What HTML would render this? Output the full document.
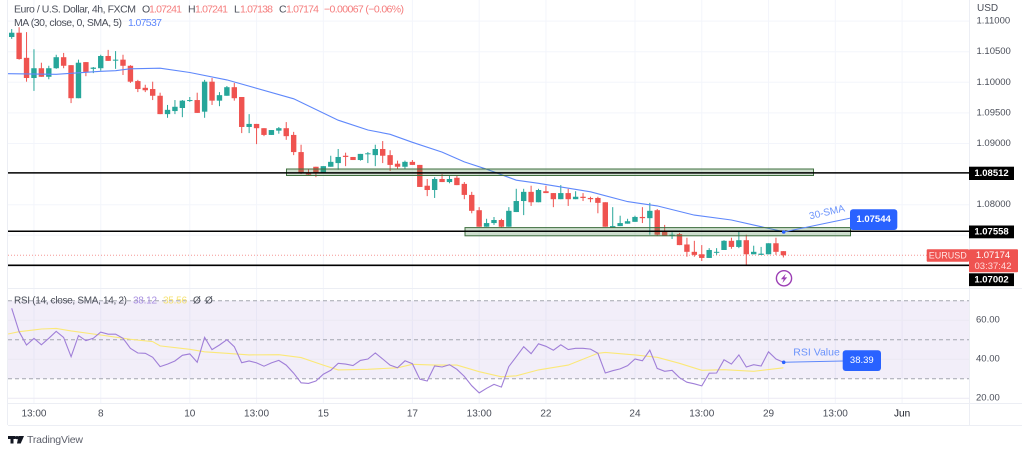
<!DOCTYPE html>
<html lang="en">
<head>
<meta charset="utf-8">
<title>EUR/USD 4h chart</title>
<style>
html,body{margin:0;padding:0;background:#fff;width:1024px;height:454px;overflow:hidden}
svg{display:block;font-family:"Liberation Sans",sans-serif}
text{dominant-baseline:central}
</style>
</head>
<body>
<svg id="chart" xmlns="http://www.w3.org/2000/svg" width="1024" height="454" viewBox="0 0 1024 454">
  <defs>
    <clipPath id="pane-clip"><rect x="8" y="0" width="961" height="288"/></clipPath>
    <clipPath id="rsi-clip"><rect x="8" y="289" width="961" height="114"/></clipPath>
  </defs>
  <g id="grid-layer"></g>
  <rect x="8" y="300.7" width="961" height="78" fill="#7e57c2" fill-opacity="0.1"/>
  <g id="rsi-grid-layer"></g>
  <g id="frame" stroke="#eceef4" stroke-width="1">
    <line x1="7.5" y1="0" x2="7.5" y2="425"/>
    <line x1="969.5" y1="0" x2="969.5" y2="425"/>
    <line x1="8" y1="288.5" x2="1022" y2="288.5"/>
    <line x1="8" y1="403.5" x2="1022" y2="403.5"/>
    <line x1="8" y1="425.5" x2="1022" y2="425.5"/>
  </g>
  <line x1="8" y1="255.3" x2="927" y2="255.3" stroke="#ef5350" stroke-opacity="0.6" stroke-dasharray="1 2"/>
  <g id="candle-layer" clip-path="url(#pane-clip)"></g>
  <polyline id="ma-line" fill="none" stroke="#5f88fb" stroke-width="1.1"/>

  <rect x="286.5" y="169" width="527" height="6.5" fill="#4f8a4f" fill-opacity="0.28" stroke="#3f6f3f" stroke-width="1"/>
  <rect x="465" y="227.6" width="385.5" height="8.2" fill="#4f8a4f" fill-opacity="0.28" stroke="#3f6f3f" stroke-width="1"/>
  <g id="level-layer"></g>

  <g font-size="10.5" fill="#4a4e59">
    <text x="14" y="9.5" textLength="122">Euro / U.S. Dollar, 4h, FXCM</text>
    <text x="142" y="9.5">O</text>
    <text x="149" y="9.5" fill="#f57c7c" textLength="33">1.07241</text>
    <text x="188" y="9.5">H</text>
    <text x="195" y="9.5" fill="#f57c7c" textLength="33">1.07241</text>
    <text x="234" y="9.5">L</text>
    <text x="240" y="9.5" fill="#f57c7c" textLength="33">1.07138</text>
    <text x="279" y="9.5">C</text>
    <text x="286" y="9.5" fill="#f57c7c" textLength="33">1.07174</text>
    <text x="324" y="9.5" fill="#f57c7c" textLength="80">−0.00067 (−0.06%)</text>
    <text x="14" y="23" textLength="108">MA (30, close, 0, SMA, 5)</text>
    <text x="128" y="23" fill="#5f88fb" textLength="34">1.07537</text>
  </g>
  <text x="977" y="8.5" font-size="10" fill="#4a4e59">USD</text>
  <g id="price-axis"></g>
  <g id="rsi-axis"></g>
  <g id="time-axis"></g>

  <rect x="969" y="166.7" width="45" height="13.3" fill="#000"/>
  <text x="991.5" y="173.5" font-size="9.5" font-weight="bold" fill="#fff" text-anchor="middle">1.08512</text>
  <rect x="969" y="225.5" width="45" height="12.8" fill="#000"/>
  <text x="991.5" y="232" font-size="9.5" font-weight="bold" fill="#fff" text-anchor="middle">1.07558</text>
  <rect x="969" y="273.3" width="45" height="12.8" fill="#000"/>
  <text x="991.5" y="279.8" font-size="9.5" font-weight="bold" fill="#fff" text-anchor="middle">1.07002</text>

  <rect x="926.7" y="249.3" width="42.3" height="12.5" rx="1" fill="#ef5350"/>
  <text x="947.8" y="255.7" font-size="9" fill="#ffe3e2" text-anchor="middle">EURUSD</text>
  <rect x="969" y="249.3" width="49" height="23" rx="1" fill="#ef5350"/>
  <text x="993" y="255.5" font-size="9.5" fill="#fff" text-anchor="middle">1.07174</text>
  <text x="993" y="266.3" font-size="9.5" fill="#ffd9d8" text-anchor="middle">03:37:42</text>

  <line x1="783.7" y1="232" x2="851" y2="218" stroke="#5f88fb" stroke-width="1"/>
  <circle cx="783.7" cy="232" r="1.8" fill="#2962ff"/>
  <text x="809.5" y="217" font-size="10" fill="#6b93fb" transform="rotate(-13 809.5 217)">30-SMA</text>
  <rect x="850" y="209.3" width="47.3" height="20.7" rx="3" fill="#2962ff"/>
  <text x="873.6" y="219.7" font-size="9.5" fill="#fff" font-weight="bold" text-anchor="middle">1.07544</text>

  <g>
    <circle cx="784" cy="278.3" r="7.6" fill="#fff" stroke="#9c3fb5" stroke-width="1.4"/>
    <polygon points="785.8,273.6 780.9,279.2 783.7,279.2 782.4,283 787.2,277.4 784.4,277.4" fill="#9c3fb5"/>
  </g>

  <g id="rsi-lines" clip-path="url(#rsi-clip)">
    <polyline id="rsi-sma-line" fill="none" stroke="#fbe878" stroke-width="1.1"/>
    <polyline id="rsi-line" fill="none" stroke="#a07fd8" stroke-width="1.1"/>
  </g>
  <g font-size="10" fill="#4a4e59">
    <text x="14" y="301" textLength="113">RSI (14, close, SMA, 14, 2)</text>
    <text x="133" y="301" fill="#a88fe0" textLength="24">38.12</text>
    <text x="163" y="301" fill="#f5e275" textLength="24">35.56</text>
    <text x="193" y="301">Ø</text>
    <text x="205" y="301">Ø</text>
  </g>
  <line x1="783.7" y1="362.3" x2="843" y2="361" stroke="#5f88fb" stroke-width="1"/>
  <circle cx="783.7" cy="362.3" r="1.8" fill="#2962ff"/>
  <text x="793.3" y="352.3" font-size="10.5" fill="#6b93fb">RSI Value</text>
  <rect x="842.7" y="350.3" width="38.3" height="20.7" rx="3" fill="#2962ff"/>
  <text x="861.8" y="360.7" font-size="9.5" fill="#fff" text-anchor="middle">38.39</text>

  <g>
    <g fill="#131722">
      <rect x="8" y="436" width="7.5" height="3"/>
      <rect x="10.5" y="436" width="3" height="7.5"/>
      <circle cx="17" cy="437.6" r="1.6"/>
      <polygon points="18.5,436 24,436 20.7,443.5 17,443.5"/>
    </g>
    <text x="27" y="440" font-size="10.5" fill="#5d606b" textLength="56">TradingView</text>
  </g>
</svg>
<script>
const opens = [1.1074,1.1081,1.1040,1.1007,1.1023,1.1009,1.1023,1.1041,1.1028,1.0974,
1.1033,1.1022,1.1023,1.1043,1.1036,1.1037,1.1027,1.1002,1.0991,1.0989,
1.0978,1.0948,1.0953,1.0958,1.0970,1.0971,1.0952,1.1001,1.0970,1.0978,
1.0992,1.0976,1.0927,1.0932,1.0925,1.0914,1.0921,1.0925,1.0914,1.0886,
1.0852,1.0862,1.0852,1.0862,1.0868,1.0880,1.0878,1.0873,1.0883,1.0881,
1.0891,1.0881,1.0867,1.0862,1.0870,1.0865,1.0831,1.0824,1.0842,1.0837,
1.0844,1.0834,1.0816,1.0791,1.0764,1.0770,1.0775,1.0764,1.0788,1.0806,
1.0821,1.0804,1.0822,1.0819,1.0809,1.0819,1.0809,1.0813,1.0811,1.0811,
1.0804,1.0762,1.0765,1.0769,1.0772,1.0780,1.0778,1.0791,1.0757,1.0749,
1.0752,1.0735,1.0723,1.0719,1.0713,1.0722,1.0726,1.0741,1.0731,1.0742,
1.0719,1.0718,1.0719,1.0737,1.07241];
const highs = [1.1087,1.1090,1.1082,1.1054,1.1032,1.1027,1.1045,1.1048,1.1028,1.1037,
1.1033,1.1025,1.1045,1.1053,1.1051,1.1045,1.1028,1.1004,1.0996,1.1001,
1.0983,1.0963,1.0971,1.0971,1.0976,1.0983,1.1004,1.1007,1.0984,1.0994,
1.0999,1.0976,1.0948,1.0932,1.0925,1.0922,1.0927,1.0935,1.0919,1.0898,
1.0858,1.0862,1.0863,1.0880,1.0891,1.0885,1.0878,1.0883,1.0886,1.0898,
1.0904,1.0889,1.0872,1.0872,1.0873,1.0865,1.0842,1.0845,1.0850,1.0847,
1.0847,1.0837,1.0821,1.0796,1.0777,1.0780,1.0777,1.0796,1.0826,1.0826,
1.0831,1.0826,1.0831,1.0819,1.0832,1.0826,1.0822,1.0819,1.0813,1.0813,
1.0804,1.0796,1.0782,1.0777,1.0782,1.0796,1.0803,1.0793,1.0767,1.0755,
1.0754,1.0746,1.0741,1.0734,1.0729,1.0729,1.0742,1.0746,1.0757,1.0751,
1.0733,1.0731,1.0737,1.0746,1.07241];
const lows = [1.1071,1.1037,1.1001,1.0986,1.1009,1.1005,1.1022,1.1023,1.0966,1.0974,
1.1010,1.1015,1.1019,1.1035,1.1022,1.1012,1.0999,1.0984,1.0984,1.0971,
1.0948,1.0942,1.0948,1.0943,1.0968,1.0950,1.0942,1.0963,1.0961,1.0978,
1.0970,1.0917,1.0917,1.0899,1.0912,1.0914,1.0916,1.0906,1.0881,1.0850,
1.0847,1.0845,1.0852,1.0862,1.0857,1.0863,1.0873,1.0872,1.0868,1.0863,
1.0868,1.0855,1.0858,1.0858,1.0865,1.0829,1.0814,1.0811,1.0837,1.0835,
1.0832,1.0809,1.0786,1.0764,1.0764,1.0767,1.0762,1.0764,1.0788,1.0783,
1.0798,1.0804,1.0819,1.0796,1.0809,1.0798,1.0809,1.0806,1.0804,1.0786,
1.0764,1.0762,1.0765,1.0769,1.0772,1.0770,1.0751,1.0749,1.0749,1.0744,
1.0734,1.0715,1.0715,1.0708,1.0713,1.0718,1.0726,1.0728,1.0729,1.0701,
1.0719,1.0718,1.0719,1.0718,1.07138];
const closes = [1.1081,1.1038,1.1007,1.1023,1.1009,1.1023,1.1041,1.1027,1.0974,1.1032,
1.1017,1.1024,1.1043,1.1035,1.1037,1.1027,1.1001,1.0989,1.0987,1.0978,
1.0948,1.0955,1.0960,1.0970,1.0971,1.0950,1.1001,1.0970,1.0979,1.0992,
1.0974,1.0927,1.0932,1.0925,1.0914,1.0922,1.0925,1.0912,1.0886,1.0852,
1.0849,1.0852,1.0863,1.0870,1.0878,1.0878,1.0873,1.0883,1.0884,1.0891,
1.0880,1.0865,1.0862,1.0870,1.0865,1.0829,1.0824,1.0842,1.0837,1.0842,
1.0832,1.0816,1.0790,1.0764,1.0770,1.0775,1.0764,1.0790,1.0806,1.0821,
1.0804,1.0824,1.0819,1.0809,1.0819,1.0809,1.0813,1.0811,1.0809,1.0803,
1.0764,1.0765,1.0770,1.0773,1.0780,1.0778,1.0790,1.0751,1.0749,1.0751,
1.0734,1.0723,1.0718,1.0713,1.0726,1.0723,1.0741,1.0731,1.0742,1.0719,
1.0723,1.0720,1.0737,1.0723,1.07174];
const maIndex = [-0.5,6,12,14,16,20,24,29,38,44,48,51,54,58,61,64,68,71,78,83,87,92,97,101,104];
const maValues = [1.1014,1.1013,1.1018,1.1019,1.1022,1.1023,1.1016,1.1004,1.0973,1.0938,1.0922,1.0915,1.0902,1.0886,1.0870,1.0858,1.0840,1.0835,1.0821,1.0805,1.0798,1.0783,1.0775,1.0764,1.0756];
const rsiValues = [66.1,54.1,47.3,50.7,47.4,50.7,54.3,51.2,41.3,52.1,
49.5,50.7,53.9,52.8,52.8,50.7,45.6,43.2,43,41,
36.2,37.5,39.1,42,42.7,38.4,51.2,44.9,47.3,50,
46.4,38.2,39.1,38.1,36.4,38.1,39.4,37,32.8,27.9,
27.6,28.8,32.3,34.3,37.9,37.5,36.7,39.4,40.1,43.2,
40.1,36.9,35.6,39.2,37.7,29.8,28.8,36.5,36,37.2,
34.8,31.2,26.4,22.7,25.1,27.1,25.7,36.2,41.3,46.4,
42.8,47.9,46.6,44.6,47.4,44.9,45.6,45.6,45.2,43,
32.9,34.1,35,36.7,40.1,39.2,44.6,35.3,33.8,34.3,
30.5,28.2,27.4,26.3,32.8,32.9,39.7,37.5,42.2,36,
37.2,36.5,43.8,40.1,38.39];
const rsiSmaIndex = [-0.5,1,3,4,6,8,12,16,19,20,24,26,29,32,36,39,42,44,48,52,54,57,60,63,66,68,71,75,79,80,84,87,90,93,96,100,104];
const rsiSmaValues = [52.9,54.1,55,55.5,55.8,54.5,52.4,50.2,49,46.8,45.1,43.8,43,42.2,42.3,40.8,37,34.5,34.8,35.6,37.4,37,37,33.6,31,31.5,34.5,37,43,43.5,42.2,41,37.9,34.3,34.6,33.8,35.6];
const priceTicks = [1.11,1.105,1.10,1.095,1.09,1.08];
const priceGridOnly = [1.075,1.07];
const levelPrices = [1.08512,1.07558,1.07002];
const rsiTicks = [60,40,20];
const rsiDashed = [70,50,30];
const timeLabels = ['13:00','8','10','13:00','15','17','13:00','22','24','13:00','29','13:00','Jun'];
const timeIndex = [3,12,24,33,42,54,63,72,84,93,102,111,120];

const NS = 'http://www.w3.org/2000/svg';
function xAt(i){ return 11.7 + 7.42 * i; }
function yPrice(p){ return 143.5 + (1.09 - p) * 6120; }
function yRsi(v){ return 398.2 - (v - 20) * 1.95; }
function mk(tag, parent, props){
  const el = document.createElementNS(NS, tag);
  for (const k in props) el.setAttribute(k, props[k]);
  parent.appendChild(el);
  return el;
}
const gridLayer = document.getElementById('grid-layer');
const rsiGridLayer = document.getElementById('rsi-grid-layer');
const candleLayer = document.getElementById('candle-layer');
const levelLayer = document.getElementById('level-layer');
const priceAxis = document.getElementById('price-axis');
const rsiAxis = document.getElementById('rsi-axis');
const timeAxis = document.getElementById('time-axis');

timeIndex.forEach(function(idx, n){
  const x = xAt(idx);
  const v = mk('line', gridLayer, {x1:x, y1:0, x2:x, y2:403, stroke:'#f3f5fb', 'stroke-width':1});
  
  
  const t = mk('text', timeAxis, {x:x, y:414, 'font-size':10, fill:(timeLabels[n]==='Jun'?'#131722':'#4a4e59'), 'text-anchor':'middle'});
  
  
  t.textContent = timeLabels[n];
});
priceTicks.concat(priceGridOnly).forEach(function(p){
  const y = yPrice(p);
  const g = mk('line', gridLayer, {x1:8, y1:y, x2:969, y2:y, stroke:'#f3f5fb', 'stroke-width':1});
  
  
});
priceTicks.forEach(function(p){
  const t = mk('text', priceAxis, {x:976.5, y:yPrice(p), 'font-size':9.5, fill:'#4a4e59'});
  
  
  t.textContent = p.toFixed(5);
});
rsiTicks.forEach(function(v){
  const y = yRsi(v);
  const g = mk('line', rsiGridLayer, {x1:8, y1:y, x2:969, y2:y, stroke:'#ebe9f3', 'stroke-width':1});
  
  
  const t = mk('text', rsiAxis, {x:976, y:y, 'font-size':9.5, fill:'#4a4e59'});
  
  
  t.textContent = v.toFixed(2);
});
rsiDashed.forEach(function(v){
  const y = yRsi(v);
  const d = mk('line', rsiGridLayer, {x1:8, y1:y, x2:969, y2:y, stroke:'#a3a6af', 'stroke-width':1, 'stroke-dasharray':'4 3'});
  
  
});
opens.forEach(function(o, i){
  const c = closes[i];
  const color = c < o ? '#ef5350' : '#26a69a';
  const x = xAt(i);
  const wick = mk('line', candleLayer, {x1:x, y1:yPrice(highs[i]), x2:x, y2:yPrice(lows[i]), stroke:color, 'stroke-width':1});
  
  
  const top = yPrice(Math.max(o, c));
  const h = Math.max(1, Math.abs(yPrice(o) - yPrice(c)));
  const body = mk('rect', candleLayer, {x:x - 2.7, y:top, width:5.4, height:h, fill:color});
  
  
});
levelPrices.forEach(function(p){
  const y = yPrice(p) - 0.5;
  const l = mk('line', levelLayer, {x1:8, y1:y, x2:969, y2:y, stroke:'#000', 'stroke-width':1.6});
  
  
});
document.getElementById('ma-line').setAttribute('points', maValues.map(function(v, n){
  return xAt(maIndex[n]).toFixed(1) + ',' + yPrice(v).toFixed(1);
}).join(' '));
document.getElementById('rsi-line').setAttribute('points', rsiValues.map(function(v, i){
  return xAt(i).toFixed(1) + ',' + yRsi(v).toFixed(1);
}).join(' '));
document.getElementById('rsi-sma-line').setAttribute('points', rsiSmaValues.map(function(v, n){
  return xAt(rsiSmaIndex[n]).toFixed(1) + ',' + yRsi(v).toFixed(1);
}).join(' '));
</script>
</body>
</html>
